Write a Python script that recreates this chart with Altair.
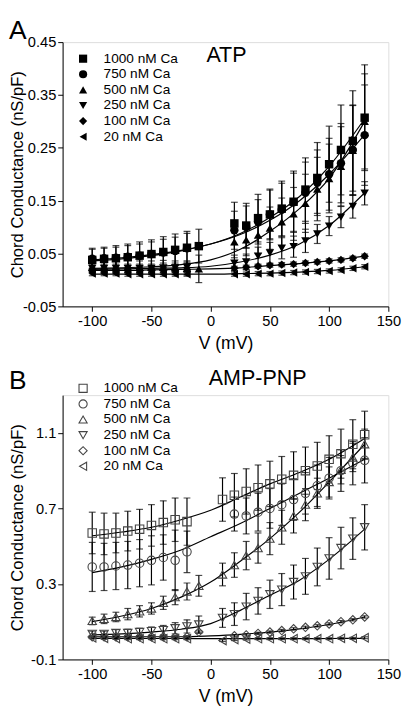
import altair as alt
import pandas as pd

SERIES = ["1000 nM Ca", "750 nM Ca", "500 nM Ca", "250 nM Ca", "100 nM Ca", "20 nM Ca"]
SHAPES = ["square", "circle", "triangle-up", "triangle-down", "diamond", "triangle-left"]

X_NEG10 = [-100, -90, -80, -70, -60, -50, -40, -30, -20, -10]
X_NEG9 = [-100, -90, -80, -70, -60, -50, -40, -30, -20]
X_P20 = [20, 30, 40, 50, 60, 70, 80, 90, 100, 110, 120, 130]
X_P10 = [10, 20, 30, 40, 50, 60, 70, 80, 90, 100, 110, 120, 130]
X_FIT = [-100, -75, -50, -25, 0, 25, 50, 75, 100, 130]

# ---------- Panel A (ATP) ----------
A_X = {
    "1000 nM Ca": X_NEG10 + X_P20,
    "750 nM Ca": X_NEG9 + X_P20,
    "500 nM Ca": X_NEG10 + X_P20,
    "250 nM Ca": X_NEG9 + X_P20,
    "100 nM Ca": X_NEG9 + X_P20,
    "20 nM Ca": X_NEG9 + X_P20,
}
A_Y = {
    "1000 nM Ca": [0.038, 0.040, 0.041, 0.043, 0.046, 0.049, 0.053, 0.057, 0.061, 0.064,
                   0.107, 0.103, 0.117, 0.124, 0.135, 0.148, 0.171, 0.193, 0.219, 0.246, 0.263, 0.307],
    "750 nM Ca": [0.040, 0.041, 0.042, 0.044, 0.046, 0.049, 0.052, 0.055, 0.060,
                  0.094, 0.100, 0.110, 0.124, 0.133, 0.147, 0.165, 0.184, 0.200, 0.221, 0.246, 0.274],
    "500 nM Ca": [0.025, 0.025, 0.025, 0.025, 0.024, 0.024, 0.024, 0.023, 0.022, 0.021,
                  0.072, 0.076, 0.085, 0.098, 0.110, 0.125, 0.145, 0.172, 0.192, 0.215, 0.245, 0.300],
    "250 nM Ca": [0.022, 0.022, 0.022, 0.022, 0.022, 0.022, 0.023, 0.023, 0.024,
                  0.032, 0.034, 0.045, 0.051, 0.060, 0.063, 0.074, 0.087, 0.102, 0.119, 0.139, 0.164],
    "100 nM Ca": [0.018, 0.018, 0.018, 0.018, 0.018, 0.019, 0.019, 0.019, 0.020,
                  0.022, 0.024, 0.026, 0.028, 0.029, 0.030, 0.032, 0.034, 0.036, 0.038, 0.041, 0.045],
    "20 nM Ca": [0.012, 0.012, 0.012, 0.011, 0.011, 0.011, 0.011, 0.011, 0.011,
                 0.011, 0.011, 0.012, 0.012, 0.013, 0.014, 0.015, 0.016, 0.017, 0.019, 0.022, 0.025],
}
A_ERR = {
    "1000 nM Ca": [0.022, 0.022, 0.024, 0.025, 0.026, 0.027, 0.029, 0.030, 0.031, 0.032,
                   0.040, 0.042, 0.045, 0.048, 0.052, 0.058, 0.060, 0.067, 0.072, 0.085, 0.095, 0.100],
    "750 nM Ca": [0.018, 0.019, 0.020, 0.021, 0.022, 0.023, 0.025, 0.026, 0.028,
                  0.036, 0.040, 0.042, 0.046, 0.050, 0.055, 0.058, 0.062, 0.068, 0.075, 0.085, 0.095],
    "500 nM Ca": [0.012, 0.012, 0.012, 0.012, 0.012, 0.012, 0.013, 0.013, 0.014, 0.026,
                  0.030, 0.030, 0.035, 0.040, 0.045, 0.050, 0.055, 0.060, 0.065, 0.075, 0.085, 0.090],
    "250 nM Ca": [0.008, 0.008, 0.008, 0.008, 0.008, 0.008, 0.009, 0.009, 0.010,
                  0.015, 0.015, 0.017, 0.020, 0.020, 0.020, 0.022, 0.018, 0.018, 0.020, 0.022, 0.022],
    "100 nM Ca": [0.004] * 21,
    "20 nM Ca": [0.004] * 21,
}
A_FIT = {
    "1000 nM Ca": [0.036, 0.040, 0.046, 0.055, 0.068, 0.088, 0.118, 0.158, 0.215, 0.305],
    "750 nM Ca": [0.038, 0.042, 0.048, 0.056, 0.068, 0.086, 0.113, 0.150, 0.200, 0.275],
    "500 nM Ca": [0.022, 0.023, 0.025, 0.029, 0.038, 0.058, 0.092, 0.135, 0.192, 0.300],
    "250 nM Ca": [0.020, 0.021, 0.022, 0.023, 0.026, 0.034, 0.047, 0.068, 0.103, 0.165],
    "100 nM Ca": [0.018, 0.018, 0.019, 0.020, 0.021, 0.023, 0.027, 0.031, 0.036, 0.045],
    "20 nM Ca": [0.011, 0.011, 0.011, 0.011, 0.011, 0.012, 0.013, 0.015, 0.018, 0.025],
}

# ---------- Panel B (AMP-PNP) ----------
B_X = {
    "1000 nM Ca": X_NEG9 + X_P10,
    "750 nM Ca": X_NEG9 + X_P20,
    "500 nM Ca": X_NEG10 + X_P10,
    "250 nM Ca": X_NEG10 + X_P10,
    "100 nM Ca": X_NEG10 + X_P20,
    "20 nM Ca": X_NEG9 + X_P10,
}
B_Y = {
    "1000 nM Ca": [0.570, 0.565, 0.570, 0.580, 0.590, 0.610, 0.625, 0.640, 0.630,
                   0.747, 0.770, 0.790, 0.810, 0.830, 0.855, 0.875, 0.900, 0.925, 0.960, 0.990, 1.040, 1.090],
    "750 nM Ca": [0.390, 0.390, 0.395, 0.400, 0.410, 0.425, 0.440, 0.425, 0.470,
                  0.670, 0.660, 0.680, 0.700, 0.720, 0.747, 0.780, 0.820, 0.860, 0.900, 0.940, 0.955],
    "500 nM Ca": [0.104, 0.115, 0.125, 0.140, 0.155, 0.170, 0.200, 0.230, 0.260, 0.290,
                  0.350, 0.400, 0.450, 0.490, 0.540, 0.600, 0.660, 0.720, 0.780, 0.840, 0.905, 0.970, 1.040],
    "250 nM Ca": [0.035, 0.035, 0.040, 0.040, 0.045, 0.050, 0.055, 0.065, 0.075, 0.085,
                  0.120, 0.140, 0.180, 0.210, 0.245, 0.270, 0.310, 0.340, 0.390, 0.435, 0.490, 0.540, 0.600],
    "100 nM Ca": [0.020, 0.020, 0.020, 0.020, 0.020, 0.020, 0.020, 0.020, 0.020, 0.045,
                  0.025, 0.030, 0.038, 0.045, 0.053, 0.062, 0.070, 0.078, 0.088, 0.100, 0.110, 0.125],
    "20 nM Ca": [0.015, 0.012, 0.011, 0.010, 0.010, 0.010, 0.010, 0.010, 0.010,
                 0.000, 0.005, 0.008, 0.010, 0.010, 0.010, 0.010, 0.010, 0.010, 0.010, 0.012, 0.012, 0.015],
}
B_ERR = {
    "1000 nM Ca": [0.110, 0.110, 0.105, 0.105, 0.105, 0.110, 0.115, 0.115, 0.125,
                   0.115, 0.115, 0.120, 0.120, 0.120, 0.120, 0.125, 0.125, 0.125, 0.125, 0.130, 0.130, 0.125],
    "750 nM Ca": [0.130, 0.125, 0.125, 0.125, 0.125, 0.130, 0.120, 0.160, 0.110,
                  0.090, 0.095, 0.100, 0.105, 0.110, 0.110, 0.110, 0.110, 0.110, 0.110, 0.115, 0.120],
    "500 nM Ca": [0.020, 0.025, 0.025, 0.030, 0.030, 0.030, 0.035, 0.040, 0.045, 0.055,
                  0.060, 0.065, 0.075, 0.080, 0.085, 0.090, 0.090, 0.085, 0.080, 0.080, 0.075, 0.075, 0.080],
    "250 nM Ca": [0.015, 0.015, 0.018, 0.020, 0.020, 0.022, 0.025, 0.030, 0.035, 0.045,
                  0.050, 0.060, 0.070, 0.070, 0.075, 0.085, 0.090, 0.095, 0.100, 0.110, 0.110, 0.110, 0.120],
    "100 nM Ca": [0.006] * 22,
    "20 nM Ca": [0.005] * 22,
}
B_FIT = {
    "1000 nM Ca": [0.555, 0.575, 0.600, 0.640, 0.690, 0.760, 0.830, 0.890, 0.960, 1.070],
    "750 nM Ca": [0.360, 0.390, 0.430, 0.480, 0.550, 0.620, 0.700, 0.780, 0.860, 0.960],
    "500 nM Ca": [0.100, 0.130, 0.170, 0.230, 0.310, 0.420, 0.540, 0.680, 0.840, 1.040],
    "250 nM Ca": [0.030, 0.035, 0.045, 0.060, 0.090, 0.160, 0.240, 0.320, 0.430, 0.590],
    "100 nM Ca": [0.020, 0.020, 0.020, 0.020, 0.025, 0.033, 0.045, 0.062, 0.085, 0.125],
    "20 nM Ca": [0.012, 0.012, 0.011, 0.011, 0.010, 0.010, 0.010, 0.010, 0.011, 0.012],
}

X_TICKS = [-100, -50, 0, 50, 100, 150]
A_YTICKS = [-0.05, 0.0, 0.05, 0.10, 0.15, 0.20, 0.25, 0.30, 0.35, 0.40, 0.45]
B_YTICKS = [-0.1, 0.0, 0.1, 0.2, 0.3, 0.4, 0.5, 0.6, 0.7, 0.8, 0.9, 1.0, 1.1, 1.2, 1.3]

FONT = "Liberation Sans"
W = 334
MINUS = "replace(datum.label, '\u2212', '-')"


def points_df(xs, ys, es):
    rows = []
    for s in SERIES:
        for x, y, e in zip(xs[s], ys[s], es[s]):
            rows.append({"series": s, "x": x, "y": y, "lo": y - e, "hi": y + e})
    return pd.DataFrame(rows)


def fit_df(fits):
    rows = []
    for s in SERIES:
        for x, y in zip(X_FIT, fits[s]):
            rows.append({"series": s, "x": x, "y": y})
    return pd.DataFrame(rows)


def panel(pts, fits, ydom, yticks, yfmt, height, filled, mcolor, label, title, title_xy, legend_xy, let_y):
    xscale = alt.Scale(domain=[-125, 150], nice=False, zero=False)
    yscale = alt.Scale(domain=ydom, nice=False, zero=False)
    xaxis = alt.Axis(values=X_TICKS, title="V (mV)", grid=False, tickSize=5,
                     labelFontSize=15, titleFontSize=18, labelFont=FONT, titleFont=FONT,
                     titleFontWeight="normal", labelColor="black", titleColor="black",
                     domainColor="black", tickColor="black", labelPadding=3, titlePadding=6,
                     labelFlush=False, labelOverlap=False, labelExpr=MINUS)
    yaxis = alt.Axis(values=yticks, format=yfmt, title="Chord Conductance (nS/pF)", grid=False,
                     tickSize=5, labelFontSize=15, titleFontSize=17, labelFont=FONT, titleFont=FONT,
                     titleFontWeight="normal", labelColor="black", titleColor="black",
                     domainColor="black", tickColor="black", labelPadding=2, titleX=-37,
                     labelFlush=False, labelOverlap=False, labelExpr=MINUS)
    lines = alt.Chart(fits).mark_line(color="black", strokeWidth=1.2, interpolate="monotone").encode(
        x=alt.X("x:Q", scale=xscale, axis=xaxis), y=alt.Y("y:Q", scale=yscale, axis=yaxis),
        detail="series:N")
    bars = alt.Chart(pts).mark_rule(color="black", strokeWidth=1.2).encode(
        x="x:Q", y="lo:Q", y2="hi:Q")
    cap_lo = alt.Chart(pts).mark_tick(orient="horizontal", size=7, thickness=1.2, color="black").encode(
        x="x:Q", y="lo:Q")
    cap_hi = alt.Chart(pts).mark_tick(orient="horizontal", size=7, thickness=1.2, color="black").encode(
        x="x:Q", y="hi:Q")
    marks = alt.Chart(pts).mark_point(filled=filled, size=75, color=mcolor, opacity=1,
                                      strokeWidth=1.1 if not filled else 0.5,
                                      fill=mcolor if filled else "transparent").encode(
        x="x:Q", y="y:Q",
        shape=alt.Shape("series:N", scale=alt.Scale(domain=SERIES, range=SHAPES),
                        legend=alt.Legend(title=None, orient="none", legendX=legend_xy[0],
                                          legendY=legend_xy[1], labelFontSize=14, labelFont=FONT,
                                          labelColor="black", symbolSize=70, labelOffset=14,
                                          rowPadding=2, padding=0,
                                          symbolStrokeWidth=1.1 if not filled else 0.5,
                                          symbolStrokeColor=mcolor,
                                          symbolFillColor=mcolor if filled else "transparent")))
    ttl = alt.Chart(pd.DataFrame({"t": [title]})).mark_text(
        fontSize=22, font=FONT, color="black", baseline="top", align="center").encode(
        x=alt.value(title_xy[0]), y=alt.value(title_xy[1]), text="t:N")
    let = alt.Chart(pd.DataFrame({"t": [label]})).mark_text(
        fontSize=27, font=FONT, color="black", baseline="top", align="left").encode(
        x=alt.value(-55), y=alt.value(let_y), text="t:N")
    return alt.layer(lines, bars, cap_lo, cap_hi, marks, ttl, let).properties(width=W, height=height)


pa = panel(points_df(A_X, A_Y, A_ERR), fit_df(A_FIT), [-0.05, 0.45], A_YTICKS, ".2f", 271,
           True, "black", "A", "ATP", (168, 3), (14, 10), -24)
pb = panel(points_df(B_X, B_Y, B_ERR), fit_df(B_FIT), [-0.1, 1.3], B_YTICKS, ".1f", 271,
           False, "#444444", "B", "AMP-PNP", (200, -27), (14, -14), -27)

chart = (alt.vconcat(pa, pb, spacing=14)
         .resolve_scale(shape="independent")
         .resolve_legend(shape="independent")
         .properties(padding=0)
         .configure_axis(labelOverlap=False)
         .configure_view(stroke=None)
         .configure(background="white"))

chart.save("out.html", embed_options={"renderer": "svg", "actions": False})
